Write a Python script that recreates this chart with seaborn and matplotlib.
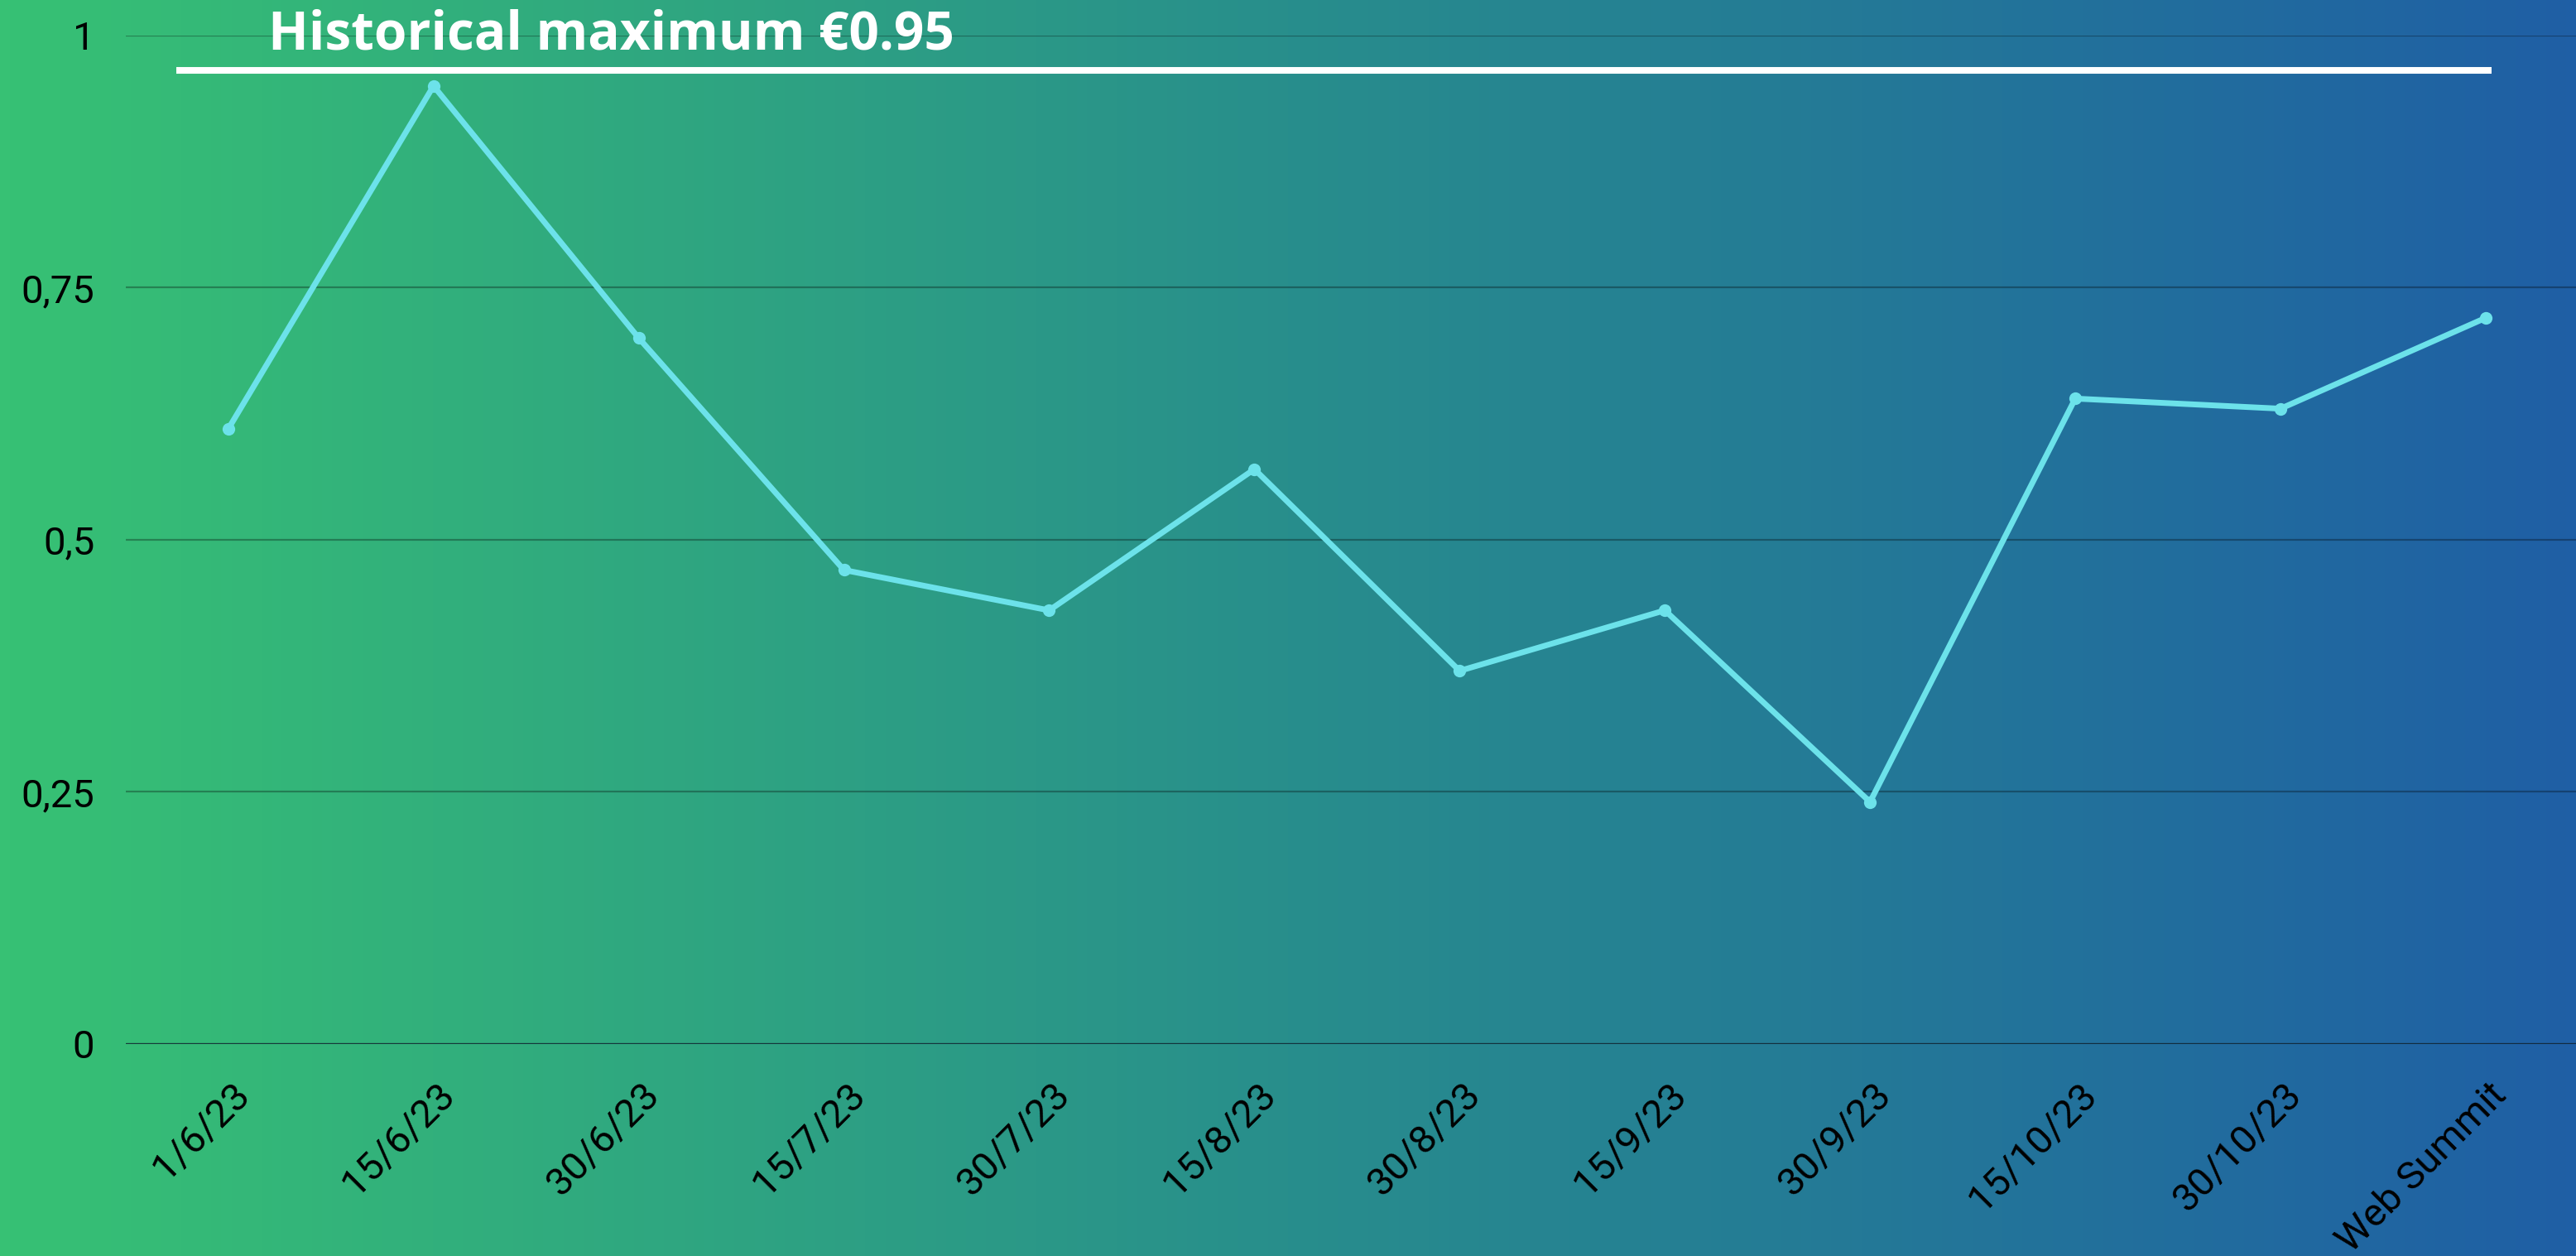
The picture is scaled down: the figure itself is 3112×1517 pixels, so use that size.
import numpy as np
import pandas as pd
import matplotlib
matplotlib.use("Agg")
import matplotlib.pyplot as plt
import matplotlib.transforms as mtransforms
from matplotlib.colors import LinearSegmentedColormap
import seaborn as sns

# data
dates = ["1/6/23", "15/6/23", "30/6/23", "15/7/23", "30/7/23", "15/8/23",
         "30/8/23", "15/9/23", "30/9/23", "15/10/23", "30/10/23", "Web Summit"]
prices = [0.61, 0.95, 0.70, 0.47, 0.43, 0.57, 0.37, 0.43, 0.24, 0.64, 0.63, 0.72]
y_ticks = [0, 0.25, 0.5, 0.75, 1]
y_tick_labels = ["0", "0,25", "0,5", "0,75", "1"]
max_label = "Historical maximum €0.95"
max_level = 0.9655

df = pd.DataFrame({"date": dates, "price": prices})

sns.set_theme(style="white")
plt.rcParams["font.family"] = ["Roboto", "DejaVu Sans"]

fig = plt.figure(figsize=(31.12, 15.17), dpi=100)

# gradient background (green -> blue)
bg = fig.add_axes([0, 0, 1, 1], zorder=-10)
cmap = LinearSegmentedColormap.from_list("bg", ["#37C174", "#288E8C", "#1F5FA5"])
bg.imshow(np.linspace(0, 1, 512).reshape(1, -1), aspect="auto", cmap=cmap,
          extent=[0, 1, 0, 1])
bg.set_axis_off()

ax = fig.add_axes([0.0488, 0.1688, 0.9512, 0.8029])
ax.set_facecolor("none")

sns.lineplot(data=df, x="date", y="price", ax=ax, sort=False,
             color="#6CE2EA", linewidth=5, marker="o", markersize=11,
             markeredgewidth=0, zorder=5)

ax.set_xlim(-0.5, 11.44)
ax.set_ylim(0, 1)

# horizontal grid
for y in y_ticks:
    if y == 0:
        ax.axhline(y, color="#10222e", alpha=0.85, linewidth=2.4, zorder=2)
    else:
        ax.axhline(y, color="black", alpha=0.3, linewidth=1.6, zorder=1)

# historical maximum line + label
ax.hlines(max_level, -0.254, 11.03, color="white", linewidth=5.8, zorder=4)
fig.text(324 / 3112, (1517 - 43) / 1517, max_label, color="white",
         fontsize=46, fontweight="bold", va="center", ha="left",
         family=["Open Sans", "DejaVu Sans"])

ax.set_yticks(y_ticks)
ax.set_yticklabels(y_tick_labels)
ax.tick_params(axis="y", length=0, pad=27, labelsize=34, labelcolor="black")
ax.tick_params(axis="x", length=0, pad=28, labelsize=34, labelcolor="black")

offset = mtransforms.ScaledTranslation(0.34, 0, fig.dpi_scale_trans)
for lab in ax.get_xticklabels():
    lab.set_rotation(45)
    lab.set_ha("right")
    lab.set_transform(lab.get_transform() + offset)

ax.set_xlabel("")
ax.set_ylabel("")
sns.despine(ax=ax, left=True, bottom=True, top=True, right=True)

fig.savefig("out.png", dpi=100)
